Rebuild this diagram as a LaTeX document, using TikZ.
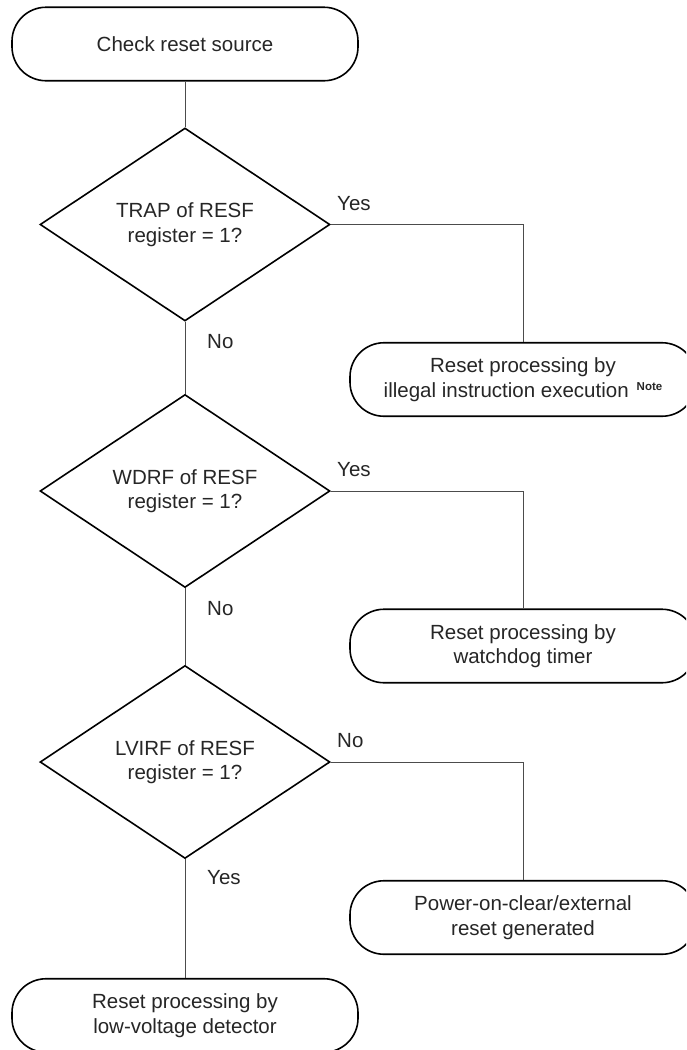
\documentclass[tikz,border=0pt]{standalone}
\usepackage{fontspec}
\setmainfont{Liberation Sans}
\usetikzlibrary{shapes.geometric}
\begin{document}
\begin{tikzpicture}[x=1pt,y=-1pt,
  txt/.style={font=\fontsize{20.5}{24.5}\selectfont,text=black!85},
  term/.style={txt,draw=black,line width=1.6pt,rounded corners=34pt,minimum width=346pt,minimum height=73.5pt,align=center,inner sep=0pt},
  dec/.style={txt,draw=black,line width=1.6pt,diamond,minimum width=290pt,minimum height=193pt,inner sep=0pt,align=center},
  conn/.style={draw=black!70,line width=0.9pt},
  lbl/.style={txt,anchor=base west,inner sep=0pt}]
\useasboundingbox (0,0) rectangle (686,1050);
\clip (0,0) rectangle (686,1050);
\fill[white] (0,0) rectangle (686,1050);
\node[term] (t0) at (185,44) {Check reset source};
\node[dec] (d1) at (185,224.5) {TRAP of RESF\\register = 1?};
\node[term] (n1) at (523,379.5) {Reset processing by\\illegal instruction execution\hspace{8pt}\raisebox{7pt}{\fontsize{11.5}{12}\selectfont\bfseries Note}};
\node[dec] (d2) at (185,491) {WDRF of RESF\\register = 1?};
\node[term] (n2) at (523,646) {Reset processing by\\watchdog timer};
\node[dec] (d3) at (185,762) {LVIRF of RESF\\register = 1?};
\node[term] (n3) at (523,917.5) {Power-on-clear/external\\reset generated};
\node[term] (t4) at (185,1015.5) {Reset processing by\\low-voltage detector};
\draw[conn] (t0.south) -- (d1.north);
\draw[conn] (d1.east) -| (n1.north);
\draw[conn] (d1.south) -- (d2.north);
\draw[conn] (d2.east) -| (n2.north);
\draw[conn] (d2.south) -- (d3.north);
\draw[conn] (d3.east) -| (n3.north);
\draw[conn] (d3.south) -- (t4.north);
\node[lbl] (y1) at (337,210) {Yes};
\node[lbl] (no1) at (207,348) {No};
\node[lbl] (y2) at (337,476) {Yes};
\node[lbl] (no2) at (207,615) {No};
\node[lbl] (no3) at (337,747) {No};
\node[lbl] (y3) at (207,884) {Yes};
\end{tikzpicture}
\end{document}
